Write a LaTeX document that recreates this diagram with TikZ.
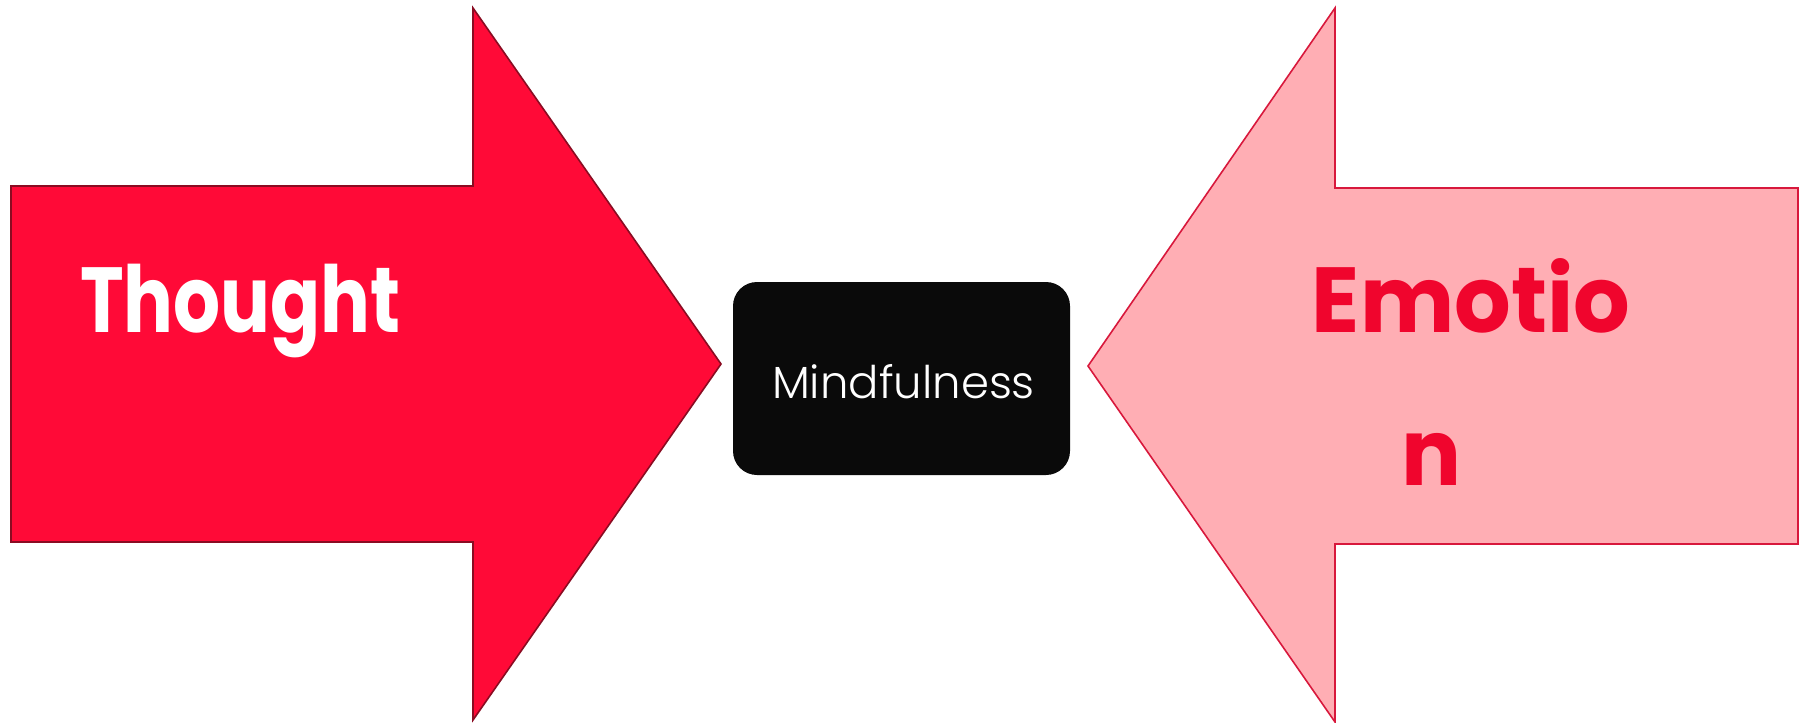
\documentclass[tikz,border=0pt]{standalone}
\usepackage{fontspec}
\setmainfont{Poppins}
\newfontfamily\poplight{Poppins Light}
\definecolor{leftfill}{HTML}{FF0A37}
\definecolor{leftline}{HTML}{8A0C22}
\definecolor{rightfill}{HTML}{FFAEB4}
\definecolor{rightline}{HTML}{D8183C}
\definecolor{emored}{HTML}{F0052D}
\definecolor{boxblack}{HTML}{0A0A0A}
\tikzset{
  bigword/.style={font=\bfseries\fontsize{84}{84}\selectfont, inner sep=0pt},
  arrowshape/.style={line width=1.6pt, line join=miter},
}
\begin{document}
\begin{tikzpicture}[x=1pt,y=-1pt]
\useasboundingbox (0,0) rectangle (1805,723);
% left arrow (Thought)
\draw[arrowshape, fill=leftfill, draw=leftline]
  (11,186) -- (473,186) -- (473,8) -- (721,364) -- (473,720) -- (473,542) -- (11,542) -- cycle;
% right arrow (Emotion)
\draw[arrowshape, fill=rightfill, draw=rightline]
  (1798,188) -- (1335,188) -- (1335,8) -- (1088,366) -- (1335,722) -- (1335,544) -- (1798,544) -- cycle;
% middle box
\node[fill=boxblack, rounded corners=24pt, minimum width=337pt, minimum height=193pt, inner sep=0pt] (mind) at (901.5,378.5) {};
\node[text=white, font=\poplight\fontsize{45}{45}\selectfont, anchor=base, inner sep=0pt] (mindtext) at (903.5,398) {Mindfulness};
% texts
\node[bigword, text=white, anchor=base west] (thought) at (80,332) {\scalebox{0.88}[1.1]{Thought}};
\node[bigword, text=emored, anchor=base] (emotio) at (1471,332) {\scalebox{1.06}[1.1]{Emotio}};
\node[bigword, text=emored, anchor=base] (emotion) at (1431,485) {\scalebox{1.06}[1.1]{n}};
\end{tikzpicture}
\end{document}
